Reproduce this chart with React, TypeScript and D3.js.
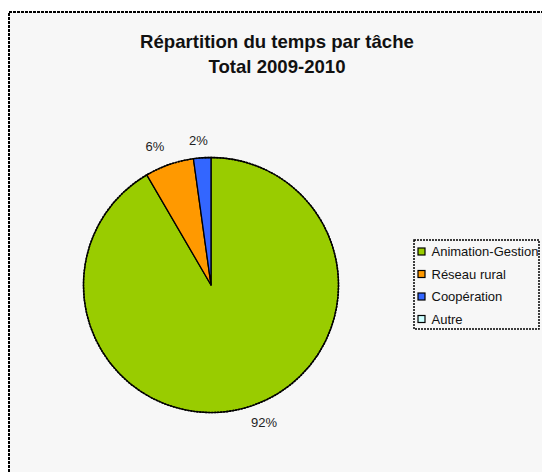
import * as d3 from "d3";
import { useEffect, useRef } from "react";

const CATEGORIES = ["Animation-Gestion", "Réseau rural", "Coopération", "Autre"];
const VALUES = [91.6, 6.2, 2.2, 0];
const COLORS = ["#99cc00", "#ff9900", "#3366ff", "#ccffff"];
const TITLE_LINES = ["Répartition du temps par tâche", "Total 2009-2010"];

const W = 542;
const H = 472;

// label placement: distance from centre and angular shift (degrees)
const LABEL_POS: Record<string, { r: number; shift: number }> = {
    "Animation-Gestion": { r: 147, shift: -6 },
    "Réseau rural": { r: 149, shift: -3 },
    "Coopération": { r: 145, shift: -1 },
};

export default function App() {
    const svgRef = useRef<SVGSVGElement | null>(null);

    useEffect(() => {
        if (!svgRef.current) return;
        const svg = d3.select(svgRef.current);
        svg.selectAll("*").remove();

        svg.append("rect").attr("width", W).attr("height", H).attr("fill", "#ffffff");
        svg.append("rect")
            .attr("x", 9)
            .attr("y", 12)
            .attr("width", W + 10)
            .attr("height", H + 10)
            .attr("fill", "#f7f7f7")
            .attr("stroke", "#000")
            .attr("stroke-width", 2)
            .attr("stroke-dasharray", "3,1");

        const font = "'Liberation Sans', Arial, sans-serif";

        svg.append("g")
            .selectAll("text")
            .data(TITLE_LINES)
            .enter()
            .append("text")
            .attr("x", 277)
            .attr("y", (_, i) => 48 + i * 24.5)
            .attr("text-anchor", "middle")
            .attr("font-family", font)
            .attr("font-weight", "bold")
            .attr("font-size", 18.6)
            .attr("fill", "#111")
            .text((d) => d);

        const cx = 211;
        const cy = 285;
        const radius = 127.5;
        const data = CATEGORIES.map((c, i) => ({ category: c, value: VALUES[i], color: COLORS[i] }));
        type D = (typeof data)[number];
        const total = d3.sum(VALUES);

        const pie = d3.pie<D>().value((d) => d.value).sort(null);
        const arc = d3.arc<d3.PieArcDatum<D>>().innerRadius(0).outerRadius(radius);
        const g = svg.append("g").attr("transform", `translate(${cx},${cy})`);
        const arcs = pie(data).filter((d) => d.data.value > 0);

        g.selectAll("path")
            .data(arcs)
            .enter()
            .append("path")
            .attr("d", (d) => arc(d) ?? "")
            .attr("fill", (d) => d.data.color)
            .attr("stroke", "#000")
            .attr("stroke-width", 1.3)
            .attr("stroke-linejoin", "round");

        g.append("circle")
            .attr("r", radius)
            .attr("fill", "none")
            .attr("stroke", "#000")
            .attr("stroke-width", 1.6)
            .attr("stroke-dasharray", "2,1");

        g.selectAll("text.lbl")
            .data(arcs)
            .enter()
            .append("text")
            .attr("class", "lbl")
            .attr("transform", (d) => {
                const p = LABEL_POS[d.data.category] ?? { r: 145, shift: 0 };
                const a = (d.startAngle + d.endAngle) / 2 + (p.shift * Math.PI) / 180;
                return `translate(${Math.sin(a) * p.r},${-Math.cos(a) * p.r})`;
            })
            .attr("text-anchor", "middle")
            .attr("dy", "0.35em")
            .attr("font-family", font)
            .attr("font-size", 13)
            .attr("fill", "#222")
            .text((d) => `${Math.round((d.data.value / total) * 100)}%`);

        const legend = svg.append("g").attr("transform", "translate(414,240)");
        legend.append("rect")
            .attr("width", 125)
            .attr("height", 89)
            .attr("fill", "#f7f7f7")
            .attr("stroke", "#000")
            .attr("stroke-width", 1.5)
            .attr("stroke-dasharray", "2,1");
        const item = legend
            .selectAll("g")
            .data(data)
            .enter()
            .append("g")
            .attr("transform", (_, i) => `translate(0, ${11.5 + i * 22.5})`);
        item.append("rect")
            .attr("x", 4)
            .attr("y", -3.5)
            .attr("width", 7)
            .attr("height", 7)
            .attr("fill", (d) => d.color)
            .attr("stroke", "#000")
            .attr("stroke-width", 1.2);
        item.append("text")
            .attr("x", 17.5)
            .attr("dy", "0.35em")
            .attr("font-family", font)
            .attr("font-size", 13)
            .attr("fill", "#111")
            .text((d) => d.category);
    }, []);

    return (
        <div style={{ position: "fixed", left: 0, top: 0 }}>
            <svg ref={svgRef} width={W} height={H} style={{ display: "block" }} />
        </div>
    );
}
